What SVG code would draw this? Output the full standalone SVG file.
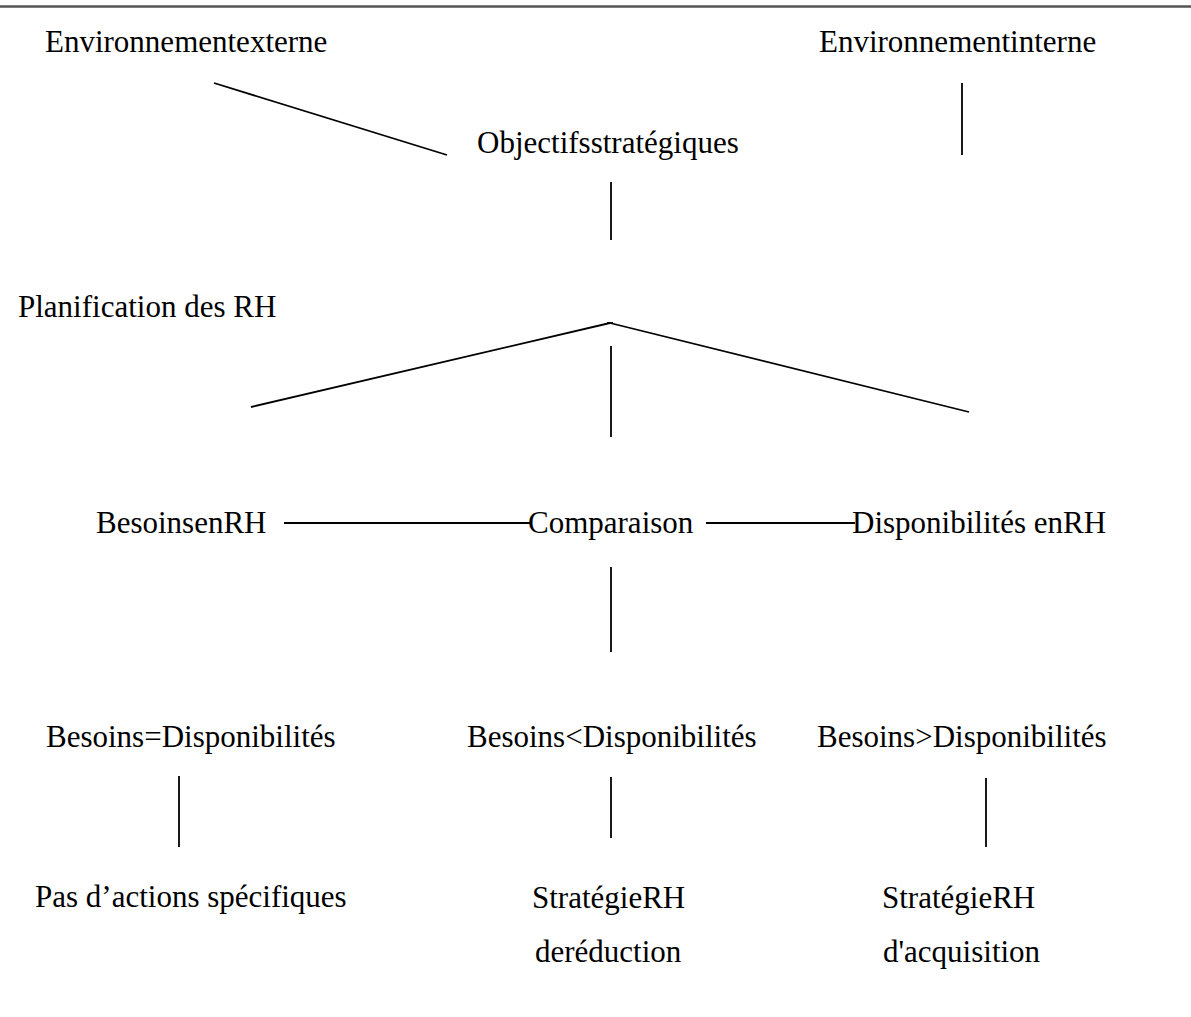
<svg xmlns="http://www.w3.org/2000/svg" width="1191" height="1017" viewBox="0 0 1191 1017">
  <style>
    .lbl { font-family: "Liberation Serif", "Times New Roman", serif; font-size: 31px; fill: #000; }
    .con line { stroke: #000; stroke-width: 1.8; fill: none; }
  </style>
  <rect x="0" y="0" width="1191" height="1017" fill="#fff"/>
  <!-- page rule at the top -->
  <line x1="0" y1="6.5" x2="1191" y2="6.5" stroke="#555" stroke-width="2.5"/>

  <g id="connectors" class="con">
    <line x1="214" y1="83" x2="447" y2="155"/>
    <line x1="962" y1="83" x2="962" y2="155"/>
    <line x1="611" y1="182" x2="611" y2="240"/>
    <line x1="607" y1="323" x2="613" y2="323"/>
    <line x1="610" y1="323" x2="251" y2="407"/>
    <line x1="610" y1="323" x2="969" y2="412"/>
    <line x1="611" y1="346" x2="611" y2="437"/>
    <line x1="284" y1="523" x2="530" y2="523"/>
    <line x1="706" y1="523" x2="855" y2="523"/>
    <line x1="611" y1="567" x2="611" y2="652"/>
    <line x1="179" y1="776" x2="179" y2="847"/>
    <line x1="611" y1="777" x2="611" y2="838"/>
    <line x1="986" y1="778" x2="986" y2="847"/>
  </g>

  <g id="env-externe"><text class="lbl" x="45" y="52">Environnementexterne</text></g>
  <g id="env-interne"><text class="lbl" x="819" y="52">Environnementinterne</text></g>
  <g id="objectifs"><text class="lbl" x="477" y="153">Objectifsstratégiques</text></g>
  <g id="planification"><text class="lbl" x="18" y="317">Planification des RH</text></g>
  <g id="besoins"><text class="lbl" x="96" y="533">BesoinsenRH</text></g>
  <g id="comparaison"><text class="lbl" x="528" y="533">Comparaison</text></g>
  <g id="disponibilites"><text class="lbl" x="852" y="533">Disponibilités enRH</text></g>
  <g id="egal"><text class="lbl" x="46" y="747">Besoins=Disponibilités</text></g>
  <g id="inferieur"><text class="lbl" x="467" y="747">Besoins&lt;Disponibilités</text></g>
  <g id="superieur"><text class="lbl" x="817" y="747">Besoins&gt;Disponibilités</text></g>
  <g id="pas-actions"><text class="lbl" x="35" y="907">Pas d’actions spécifiques</text></g>
  <g id="reduction">
    <text class="lbl" x="532" y="908">StratégieRH</text>
    <text class="lbl" x="535" y="962">deréduction</text>
  </g>
  <g id="acquisition">
    <text class="lbl" x="882" y="908">StratégieRH</text>
    <text class="lbl" x="883" y="962">d'acquisition</text>
  </g>
</svg>
